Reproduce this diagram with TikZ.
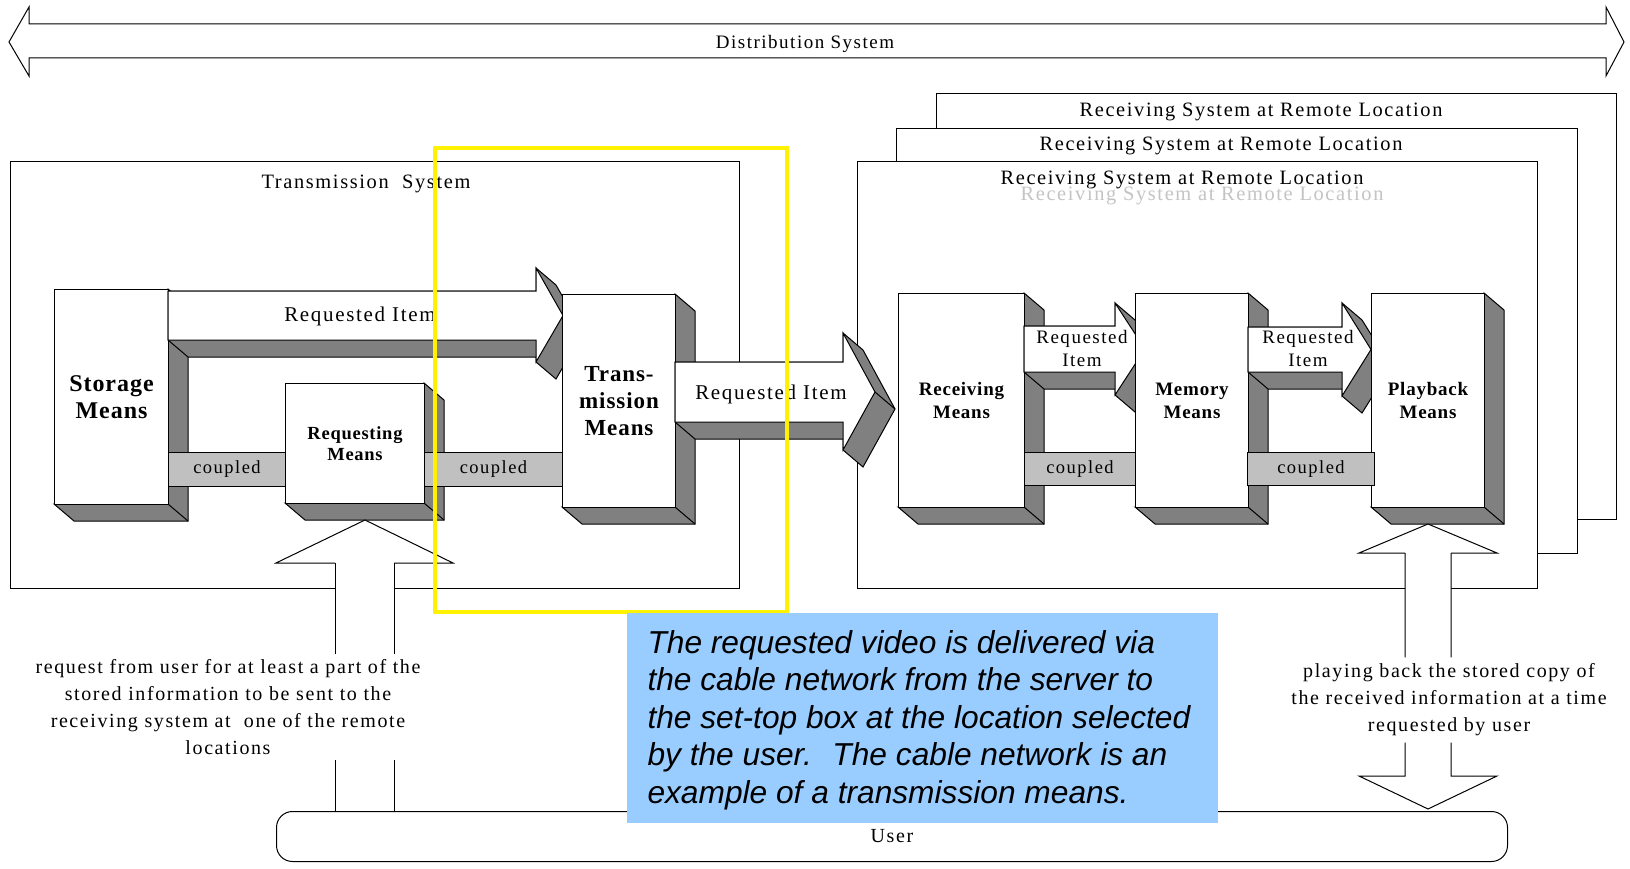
\documentclass[tikz,border=0pt]{standalone}
\usepackage{fontspec}
\newfontfamily\labelfont[LetterSpace=8]{Liberation Serif}
\newfontfamily\meansfont[LetterSpace=4]{Liberation Serif}
\newfontfamily\notefont{Liberation Sans}

\definecolor{shadowgray}{HTML}{808080}
\definecolor{bargray}{HTML}{C0C0C0}
\definecolor{ghostgray}{HTML}{C4C4C4}
\definecolor{noteblue}{HTML}{99CCFF}

\newcommand{\bigmeans}{\meansfont\bfseries\fontsize{24}{26.5}\selectfont}
\newcommand{\transmeans}{\meansfont\bfseries\fontsize{23}{27}\selectfont}
\newcommand{\midmeans}{\meansfont\bfseries\fontsize{19}{23}\selectfont}
\newcommand{\smallmeans}{\meansfont\bfseries\fontsize{18.5}{21}\selectfont}

\tikzset{
	face/.style={draw=black, fill=white},
	shade3d/.style={draw=black, fill=shadowgray},
	meanslabel/.style={face, align=center, inner sep=0pt},
	coupledbar/.style={draw=black, fill=bargray, inner sep=0pt, font=\labelfont\fontsize{18.5}{20}\selectfont},
	sysbox/.style={draw=black, fill=white, inner sep=0pt},
	systitle/.style={inner sep=0pt, font=\labelfont\fontsize{20.4}{24}\selectfont},
	itemtext/.style={inner sep=0pt, align=center, font=\labelfont\fontsize{21}{24}\selectfont},
	smallitem/.style={inner sep=0pt, align=center, font=\labelfont\fontsize{19}{23}\selectfont},
	desc/.style={inner xsep=0pt, align=center, font=\labelfont\fontsize{20}{27}\selectfont},
	note/.style={align=left, inner sep=0pt, font=\notefont\itshape\fontsize{31.7}{37.5}\selectfont},
	userbox/.style={draw=black, fill=white, rounded corners=16pt, inner sep=0pt, font=\labelfont\fontsize{20}{24}\selectfont}
}

% 3d block: name, front face corners (x1,y1) (x2,y2), label options, label
\newcommand{\meansbox}[7]{%
	\filldraw[shade3d] (#4,#3) -- (#4+20,#3+17) -- (#4+20,#5+17) -- (#2+20,#5+17) -- (#2,#5) -- (#4,#5) -- cycle;
	\draw (#4,#5) -- (#4+20,#5+17);
	\node[meanslabel, minimum width=#4-#2, minimum height=#5-#3, anchor=north west, #6] (#1) at (#2,#3) {#7};}

% 3d arrow: x start, shaft top, shaft bottom, head base, head top, head bottom, tip
\newcommand{\itemarrow}[7]{%
	\filldraw[shade3d] (#1,#2) -- (#4,#2) -- (#4,#5) -- (#4+20,#5+17) -- (#7+20,{(#2+#3)/2+17}) -- (#4+20,#6+17) -- (#4,#6) -- (#4,#3+17) -- (#1+20,#3+17) -- (#1,#3) -- cycle;
	\filldraw[face] (#1,#2) -- (#4,#2) -- (#4,#5) -- (#7,{(#2+#3)/2}) -- (#4,#6) -- (#4,#3) -- (#1,#3) -- cycle;
	\draw (#7,{(#2+#3)/2}) -- ++(20,17);}

\begin{document}
\begin{tikzpicture}[x=1pt, y=-1pt, line width=1pt]
	\path[use as bounding box, fill=white] (0,0) rectangle (1630,869);

	% distribution system
	\draw[face] (9,42) -- (29,7) -- (29,24) -- (1606,24) -- (1606,7) -- (1624,42) -- (1606,76) -- (1606,58) -- (29,58) -- (29,76) -- cycle;
	\node[systitle, font=\labelfont\fontsize{19}{22}\selectfont] (dist) at (805,44) {Distribution System};

	% receiving systems, back to front
	\node[sysbox, minimum width=680, minimum height=426, anchor=north west] (rxc) at (936,93) {};
	\node[systitle] (rxctitle) at (1261,112) {Receiving System at Remote Location};
	\node[sysbox, minimum width=681, minimum height=425, anchor=north west] (rxb) at (896,128) {};
	\node[systitle] (rxbtitle) at (1221,146) {Receiving System at Remote Location};
	\node[sysbox, minimum width=680, minimum height=427, anchor=north west] (rxa) at (857,161) {};
	\node[systitle] (rxatitle) at (1182,180) {Receiving System at Remote Location};
	\node[systitle, text=ghostgray] (rxghost) at (1202,196) {Receiving System at Remote Location};

	% transmission system
	\node[sysbox, minimum width=729, minimum height=427, anchor=north west] (txsys) at (10,161) {};
	\node[systitle] (txtitle) at (366,184) {Transmission~ System};

	\meansbox{storage}{54}{289}{168}{504}{font=\bigmeans}{Storage\\Means}
	\meansbox{requesting}{285}{383}{424}{503}{font=\smallmeans}{Requesting\\Means}
	\node[coupledbar, minimum width=117, minimum height=34, anchor=west] (cpa) at (168,469) {coupled};
	\node[coupledbar, minimum width=138, minimum height=34, anchor=west] (cpb) at (424,469) {coupled};

	\itemarrow{168}{291}{340}{536}{268}{362}{563}
	\node[itemtext] (itema) at (360,316) {Requested Item};
	\meansbox{transmission}{562}{294}{675}{507}{font=\transmeans}{Trans-\\mission\\Means}

	\itemarrow{675}{362}{422}{843}{333}{450}{875}
	\node[itemtext] (itemb) at (771,394) {Requested Item};

	\meansbox{receiving}{898}{293}{1024}{507}{font=\midmeans}{Receiving\\Means}
	\node[coupledbar, minimum width=111, minimum height=33, anchor=west] (cpc) at (1024,469) {coupled};
	\itemarrow{1024}{326}{372}{1115}{303}{395}{1145}
	\node[smallitem] (itemc) at (1082,348) {Requested\\Item};
	\meansbox{memory}{1135}{293}{1248}{507}{font=\midmeans}{Memory\\Means}
	\itemarrow{1248}{327}{372}{1342}{303}{396}{1371}
	\node[smallitem] (itemd) at (1308,348) {Requested\\Item};
	\meansbox{playback}{1371}{293}{1484}{507}{font=\midmeans}{Playback\\Means}
	\node[coupledbar, minimum width=127, minimum height=33, anchor=west] (cpd) at (1247,469) {coupled};

	% user
	\node[userbox, minimum width=1231, minimum height=50, anchor=north west] (user) at (276,811) {User};

	% request from user
	\coordinate (rql) at (335,563);
	\coordinate (rqr) at (394,563);
	\fill[white] (rql) -- (276,563) -- (365,520) -- (453,563) -- (rqr) -- (394,600) -- (335,600) -- cycle;
	\draw (rql) -- (276,563) -- (365,520) -- (453,563) -- (rqr);
	\node[desc, inner ysep=5pt] (reqtext) at (228,707) {request from user for at least a part of the\\stored information to be sent to the\\receiving system at~ one of the remote\\locations};
	\draw (rql) -- (rql |- reqtext.north) (rql |- reqtext.south) -- (rql |- user.north);
	\draw (rqr) -- (rqr |- reqtext.north) (rqr |- reqtext.south) -- (rqr |- user.north);

	% playing back
	\coordinate (pbl) at (1405,553);
	\coordinate (pbr) at (1451,553);
	\coordinate (pbll) at (1405,776);
	\coordinate (pbrr) at (1451,776);
	\fill[white] (pbl) -- (1359,553) -- (1428,524) -- (1497,553) -- (pbr) -- (1451,600) -- (1405,600) -- cycle;
	\draw (pbl) -- (1359,553) -- (1428,524) -- (1497,553) -- (pbr);
	\node[desc, inner ysep=6pt] (playtext) at (1449,700) {playing back the stored copy of\\the received information at a time\\requested by user};
	\draw (pbl) -- (pbl |- playtext.north) (pbl |- playtext.south) -- (pbll) -- (1359,776) -- (1428,809) -- (1497,776) -- (pbrr) -- (pbr |- playtext.south) (pbr |- playtext.north) -- (pbr);

	% highlight and note
	\draw[yellow, line width=4.5pt] (435,148) rectangle (787,612);
	\fill[noteblue] (627,613) rectangle (1218,823);
	\node[note, anchor=west] (note) at (647,720) {The requested video is delivered via\\the cable network from the server to\\the set-top box at the location selected\\by the user.~ The cable network is an\\example of a transmission means.};
\end{tikzpicture}
\end{document}
